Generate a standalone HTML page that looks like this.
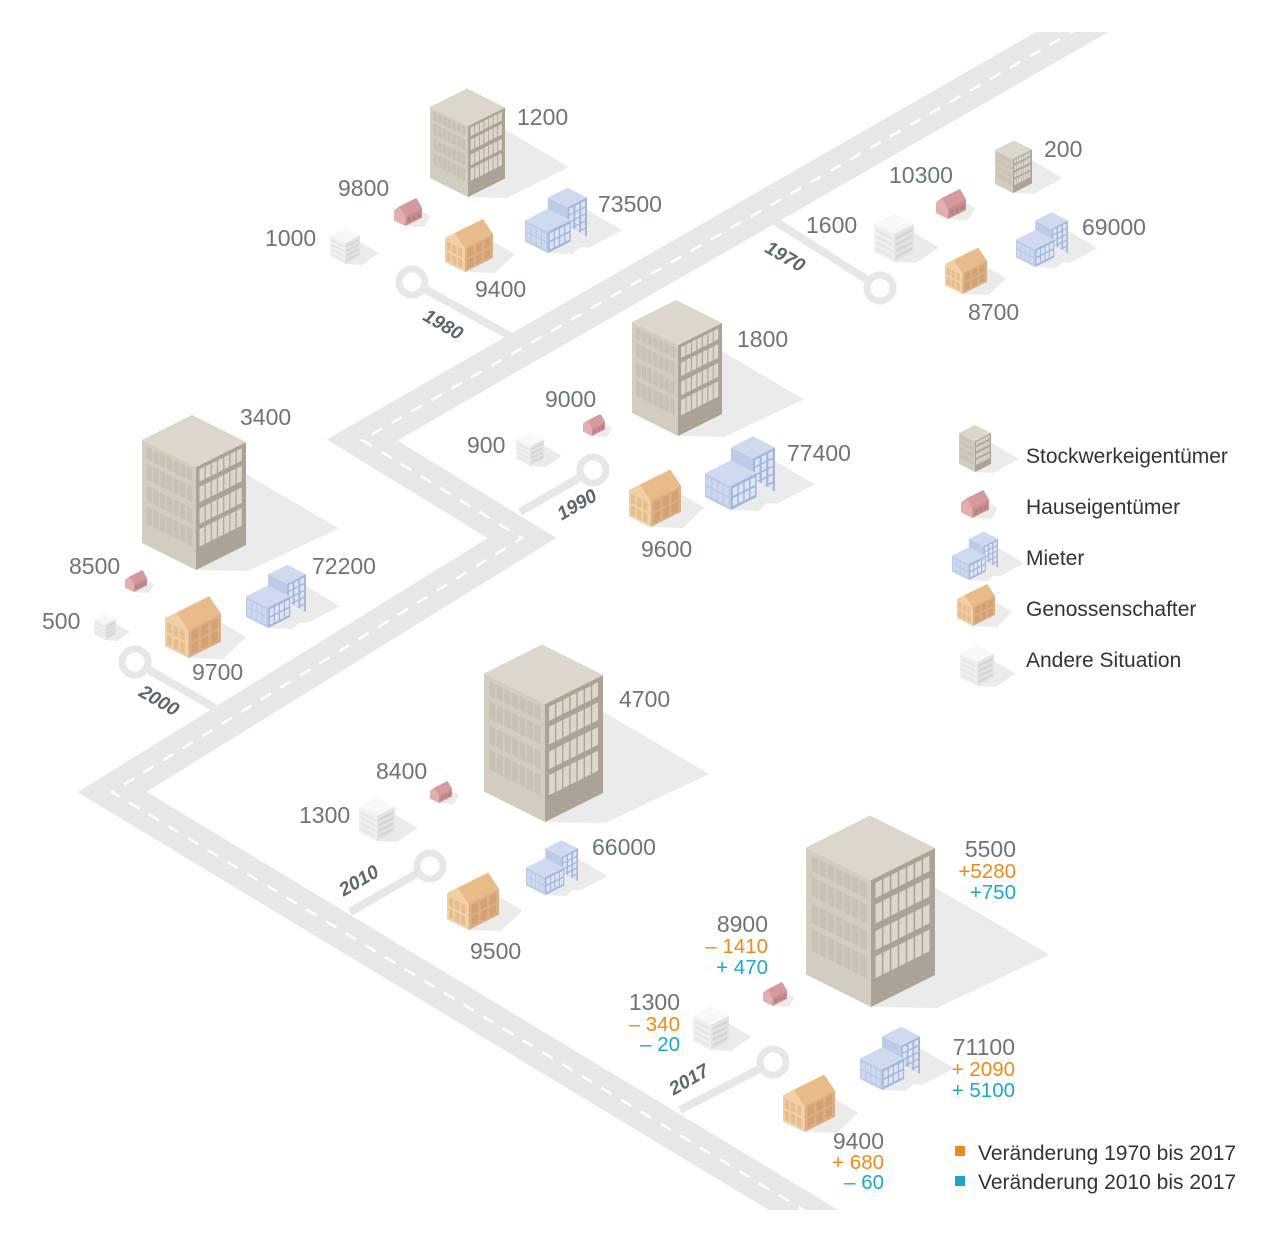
<!DOCTYPE html>
<html><head><meta charset="utf-8"><style>
html,body{margin:0;padding:0;background:#fff;}
svg{display:block;}
text{font-family:"Liberation Sans",sans-serif;}
.n{font-size:23px;fill:#6c747b;}
.o{font-size:20.5px;fill:#ef8a1a;}
.c{font-size:20.5px;fill:#1ea6cc;}
.y{font-size:19px;font-weight:bold;font-style:italic;fill:#5c666d;}
.l{font-size:21px;fill:#333;}
</style></head><body>
<svg id="s" width="1274" height="1242" viewBox="0 0 1274 1242" xmlns="http://www.w3.org/2000/svg">
<defs><clipPath id="cp"><rect x="0" y="32" width="1274" height="1178"/></clipPath></defs>
<rect width="1274" height="1242" fill="#fff"/>
<g id="road">
<g clip-path="url(#cp)">
<polyline points="1100,16 362,440 522,538 112,792 830,1226" fill="none" stroke="#e7e7e7" stroke-width="36" stroke-linejoin="miter"/>
<polyline points="1100,16 362,440 522,538 112,792 830,1226" fill="none" stroke="#fff" stroke-width="2.5" stroke-dasharray="12 11"/>
</g>
<g stroke="#e7e7e7" stroke-width="8" fill="#fff">
<line x1="770" y1="218" x2="880" y2="288"/><circle cx="880" cy="288" r="13" stroke-width="7"/>
<line x1="412" y1="282" x2="510" y2="336"/><circle cx="412" cy="282" r="13" stroke-width="7"/>
<line x1="593" y1="470" x2="520" y2="512"/><circle cx="593" cy="470" r="13" stroke-width="7"/>
<line x1="135" y1="662" x2="215" y2="708"/><circle cx="135" cy="662" r="13" stroke-width="7"/>
<line x1="430" y1="866" x2="350" y2="912"/><circle cx="430" cy="866" r="13" stroke-width="7"/>
<line x1="773" y1="1062" x2="680" y2="1110"/><circle cx="773" cy="1062" r="13" stroke-width="7"/>
</g>
<text class="y" transform="translate(782,262) rotate(30)" text-anchor="middle">1970</text>
<text class="y" transform="translate(440,330) rotate(30)" text-anchor="middle">1980</text>
<text class="y" transform="translate(580,510) rotate(-30)" text-anchor="middle">1990</text>
<text class="y" transform="translate(156,706) rotate(30)" text-anchor="middle">2000</text>
<text class="y" transform="translate(362,886) rotate(-30)" text-anchor="middle">2010</text>
<text class="y" transform="translate(692,1085) rotate(-30)" text-anchor="middle">2017</text>
</g>
<g id="b"></g>
<g>
<text class="n" x="517" y="125">1200</text><text class="n" x="338" y="196">9800</text><text class="n" x="598" y="212">73500</text><text class="n" x="265" y="246">1000</text><text class="n" x="475" y="297">9400</text>
<text class="n" x="1044" y="157">200</text><text class="n" x="889" y="183">10300</text><text class="n" x="806" y="233">1600</text><text class="n" x="1082" y="235">69000</text><text class="n" x="968" y="320">8700</text>
<text class="n" x="737" y="347">1800</text><text class="n" x="545" y="407">9000</text><text class="n" x="467" y="453">900</text><text class="n" x="787" y="461">77400</text><text class="n" x="641" y="557">9600</text>
<text class="n" x="240" y="425">3400</text><text class="n" x="69" y="574">8500</text><text class="n" x="312" y="574">72200</text><text class="n" x="42" y="629">500</text><text class="n" x="192" y="680">9700</text>
<text class="n" x="619" y="707">4700</text><text class="n" x="376" y="779">8400</text><text class="n" x="299" y="823">1300</text><text class="n" x="592" y="855">66000</text><text class="n" x="470" y="959">9500</text>
<g text-anchor="end">
<text class="n" x="1016" y="857">5500</text><text class="o" x="1016" y="878">+5280</text><text class="c" x="1016" y="899">+750</text>
<text class="n" x="768" y="932">8900</text><text class="o" x="768" y="953">– 1410</text><text class="c" x="768" y="974">+ 470</text>
<text class="n" x="680" y="1010">1300</text><text class="o" x="680" y="1031">– 340</text><text class="c" x="680" y="1051">– 20</text>
<text class="n" x="1015" y="1055">71100</text><text class="o" x="1015" y="1076">+ 2090</text><text class="c" x="1015" y="1097">+ 5100</text>
<text class="n" x="884" y="1149">9400</text><text class="o" x="884" y="1169">+ 680</text><text class="c" x="884" y="1189">– 60</text>
</g>
<text class="l" x="1026" y="463">Stockwerkeigentümer</text>
<text class="l" x="1026" y="514">Hauseigentümer</text>
<text class="l" x="1026" y="565">Mieter</text>
<text class="l" x="1026" y="616">Genossenschafter</text>
<text class="l" x="1026" y="667">Andere Situation</text>
<rect x="955" y="1146" width="10" height="10" fill="#ef8a1a"/><text class="l" x="978" y="1160">Veränderung 1970 bis 2017</text>
<rect x="955" y="1176" width="10" height="10" fill="#1ea6cc"/><text class="l" x="978" y="1189">Veränderung 2010 bis 2017</text>
</g>
</svg>
<script>
var out=[];
function P(a){return '<polygon points="'+a.map(function(p){return p[0].toFixed(1)+','+p[1].toFixed(1)}).join(' ')+'" fill="';}
function poly(a,c){out.push(P(a)+c+'"/>');}
function box(fx,fy,a,b,h,C,sh){
 var F=[fx,fy],L=[fx-a,fy-a/2],R=[fx+b,fy-b/2];
 var Ft=[fx,fy-h],Lt=[fx-a,fy-a/2-h],Rt=[fx+b,fy-b/2-h],Bt=[fx-a+b,fy-a/2-b/2-h];
 if(sh!==false) poly([[R[0],R[1]-0.69*h],[R[0]+0.9*h,R[1]-0.16*h],[R[0]+2,fy+1],F],'#ebebeb');
 poly([F,L,Lt,Ft],C[1]);poly([F,R,Rt,Ft],C[2]);poly([Ft,Lt,Bt,Rt],C[0]);
 return {F:F,L:L,R:R,Ft:Ft,Lt:Lt,Rt:Rt,Bt:Bt};
}
function fr(fx,fy,w,dir,h,u0,u1,v0,v1){
 function pt(u,v){return [fx+dir*u*w, fy-u*w/2-v*h];}
 return [pt(u0,v0),pt(u1,v0),pt(u1,v1),pt(u0,v1)];
}
function tower(fx,fy,a,b,h){
 box(fx,fy,a,b,h,['#dcd6cc','#d3ccc0','#aaa396']);
 var rows=[[0.21,0.38],[0.43,0.58],[0.64,0.79],[0.84,0.96]];
 rows.forEach(function(r){
  for(var i=0;i<7;i++){var u0=0.07+i*0.124,u1=u0+0.1;
   poly(fr(fx,fy,b,1,h,u0,u1,r[0],r[1]),'#ddd6c9');
   poly(fr(fx,fy,a,-1,h,u0,u1,r[0],r[1]),'#c9c1b3');}
 });
}
function gable(fx,fy,a,b,h,rh,C){
 var o=box(fx,fy,a,b,h,C);
 var pk=[fx-a/2,fy-a/4-h-rh];
 var pk2=[pk[0]+b,pk[1]-b/2];
 poly([o.Ft,o.Lt,pk],C[1]);
 poly([o.Lt,pk,pk2,o.Bt],C[0]);
 poly([o.Ft,pk,pk2,o.Rt],C[3]);
 return o;
}
var HC=['#d99a9d','#e2aeb0','#c98e92','#d6999c'];
var GC=['#e0ad78','#f2d0a6','#dcae83','#e8bb88'];
var MC=['#cfdaf0','#bccbe7','#a5b6d8'];
var AC=['#f8f8f8','#f0f0f0','#e3e3e3'];
function haus(cx,by,W){var s=W/20;var fx=cx-2*s;gable(fx,by,8*s,12*s,7*s,5*s,HC);
 for(var i=0;i<3;i++)poly(fr(fx,by,12*s,1,7*s,0.15+i*0.28,0.33+i*0.28,0.2,0.65),'#b97e83');}
function gen(cx,by,W){var s=W/24;var fx=cx-2*s,h=12*s;gable(fx,by,10*s,14*s,h,5*s,GC);
 [[0.1,0.45],[0.55,0.9]].forEach(function(r){for(var i=0;i<3;i++){poly(fr(fx,by,14*s,1,h,0.1+i*0.3,0.3+i*0.3,r[0],r[1]),'#d3a173');poly(fr(fx,by,10*s,-1,h,0.15+i*0.28,0.35+i*0.28,r[0],r[1]),'#e6bd8d');}});}
function mieter(cx,by,W){var s=W/38;var fx=cx-5*s;
 var bx=fx+12*s,byy=by-4*s,h2=24*s;box(bx,byy,12*s,12*s,h2,MC);
 for(var r=0;r<5;r++)for(var i=0;i<3;i++)poly(fr(bx,byy,12*s,1,h2,0.1+i*0.3,0.3+i*0.3,0.08+r*0.18,0.22+r*0.18),'#dce5f5');
 var h=13*s;box(fx,by,14*s,14*s,h,MC);
 for(var r=0;r<2;r++)for(var i=0;i<4;i++){poly(fr(fx,by,14*s,1,h,0.08+i*0.23,0.25+i*0.23,0.12+r*0.42,0.45+r*0.42),'#dce5f5');poly(fr(fx,by,14*s,-1,h,0.08+i*0.23,0.25+i*0.23,0.12+r*0.42,0.45+r*0.42),'#cdd9ee');}}
function andere(cx,by,W){var s=W/20,h=14*s;box(cx,by,10*s,10*s,h,AC);
 for(var r=0;r<4;r++){poly(fr(cx,by,10*s,1,h,0.1,0.9,0.1+r*0.22,0.2+r*0.22),'#d4d4d4');poly(fr(cx,by,10*s,-1,h,0.1,0.9,0.1+r*0.22,0.2+r*0.22),'#e6e6e6');}}
tower(468,197,38,37,71);
tower(1013,193,18,19,34);
tower(678,436,46,44,91);
tower(196,570,54,50,103);
tower(545,822,61,58,118);
tower(871,1007,65,64,127);
tower(975,472,16,16,31);
andere(345,264,30);haus(408,226,28);gen(469,272,48);mieter(556,253,62);
andere(894,262,40);haus(951,219,30);gen(966,294,42);mieter(1042,267,52);
andere(530,466,28);haus(594,436,22);gen(655,527,52);mieter(740,510,70);
andere(105,640,22);haus(136,592,22);gen(193,658,56);mieter(276,628,60);
andere(377,841,36);haus(441,803,22);gen(473,930,52);mieter(552,895,52);
andere(711,1050,36);haus(775,1006,24);gen(809,1132,52);mieter(890,1090,60);
haus(975,518,28);mieter(975,580,46);gen(976,626,38);andere(977,686,34);
document.getElementById('b').innerHTML=out.join('');
</script>
</body></html>
